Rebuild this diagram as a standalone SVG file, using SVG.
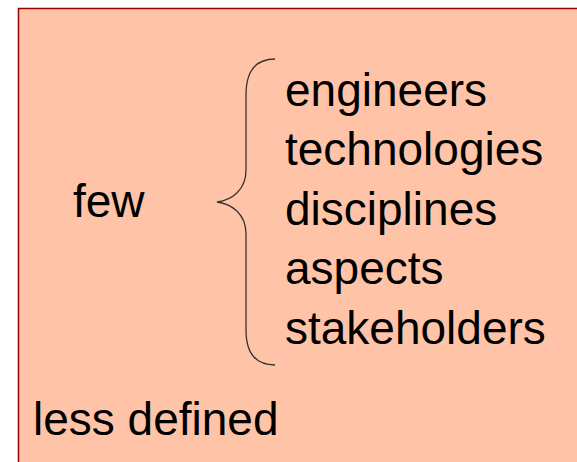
<svg xmlns="http://www.w3.org/2000/svg" width="577" height="462" viewBox="0 0 577 462">
<style>
text { font-family: "Liberation Sans", Arial, sans-serif; font-size: 46px; fill: #000; }
.brace { fill: none; stroke: #333; stroke-width: 1.3; }
</style>
<rect width="577" height="462" fill="#fff"/>
<g id="panel">
<rect x="18.5" y="8.5" width="570" height="470" fill="#FFC4A8" stroke="#990000" stroke-width="1.5"/>
</g>
<g id="few"><text x="73" y="217">few</text></g>
<g id="brace">
<path class="brace" d="M275,59 C255,59 246,72 246,95 L246,170 C246,190 232,200 217,202 C232,204 246,214 246,234 L246,330 C246,352 255,365 275,365"/>
</g>
<g id="list">
<text x="285" y="106">engineers</text>
<text x="285" y="165">technologies</text>
<text x="285" y="225">disciplines</text>
<text x="285" y="284">aspects</text>
<text x="285" y="344">stakeholders</text>
</g>
<g id="less"><text x="33" y="435">less defined</text></g>
</svg>
